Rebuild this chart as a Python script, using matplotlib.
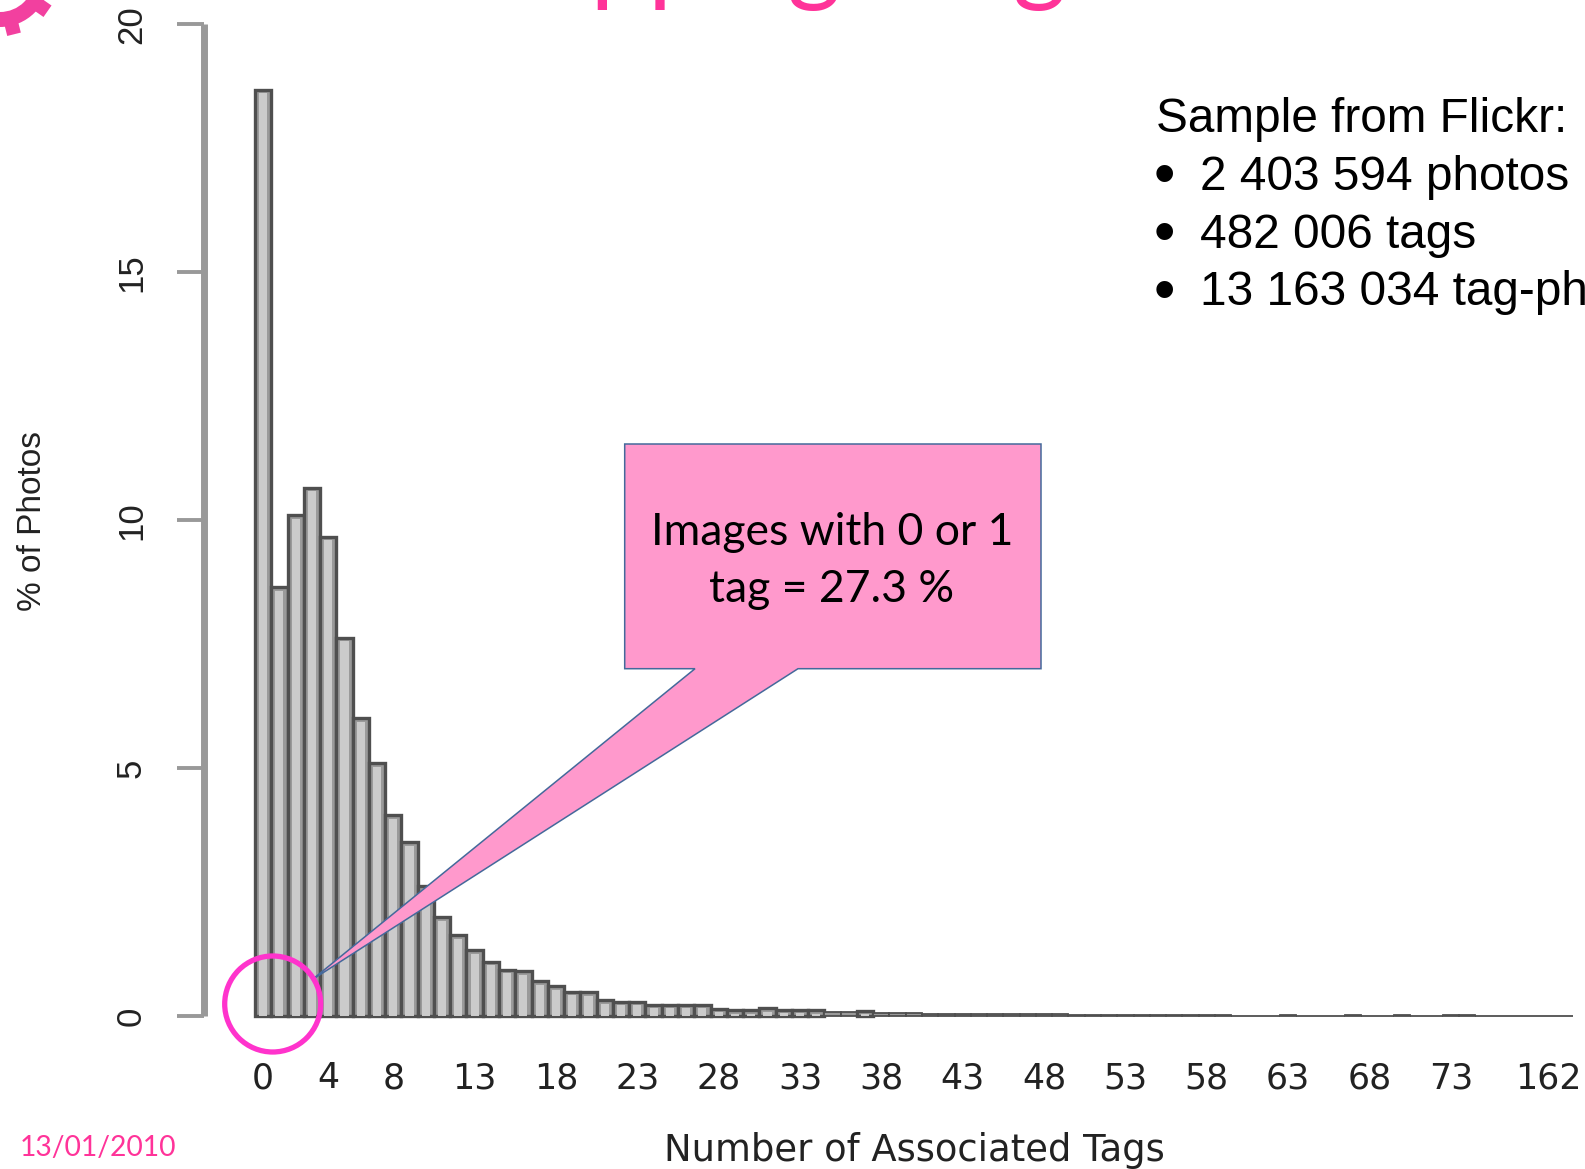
import math
import matplotlib
matplotlib.use("Agg")
import matplotlib.pyplot as plt
from matplotlib.patches import Polygon, Circle, Wedge

W, H = 1585, 1169

# ---- data (percent of photos per number of associated tags) ----
percent_photos = [
    18.68, 8.65, 10.10, 10.65, 9.67, 7.63, 6.00, 5.10, 4.05, 3.50,
    2.63, 1.99, 1.63, 1.33, 1.09, 0.93, 0.90, 0.70, 0.60, 0.49,
    0.48, 0.32, 0.29, 0.29, 0.23, 0.23, 0.23, 0.23, 0.15, 0.12,
    0.12, 0.16, 0.13, 0.13, 0.12, 0.08, 0.08, 0.11, 0.07, 0.06,
    0.06, 0.05, 0.05, 0.05, 0.05, 0.04, 0.04, 0.04, 0.04, 0.04,
    0.03, 0.03, 0.03, 0.02, 0.03, 0.02, 0.03, 0.02, 0.02, 0.02,
    0.01, 0.01, 0.01, 0.03, 0.01, 0.01, 0.01, 0.03, 0.01, 0.01,
    0.03, 0.01, 0.01, 0.03, 0.03, 0.01, 0.01, 0.01, 0.01, 0.01,
    0.01,
]
x_tick_positions = [0, 4, 8, 13, 18, 23, 28, 33, 38, 43, 48, 53, 58, 63, 68, 73, 79]
x_tick_labels = ["0", "4", "8", "13", "18", "23", "28", "33", "38", "43",
                 "48", "53", "58", "63", "68", "73", "162"]
y_ticks = [0, 5, 10, 15, 20]
x_label = "Number of Associated Tags"
y_label = "% of Photos"
title_words = ["Mapping", "tags"]
date_text = "13/01/2010"
callout_lines = "Images with 0 or 1\ntag = 27.3 %"
sample_header = "Sample from Flickr:"
sample_items = ["2 403 594 photos", "482 006 tags", "13 163 034 tag-ph"]

SANS = ["Liberation Sans", "DejaVu Sans"]
WIDE = ["DejaVu Sans"]
CAL = ["Lato", "DejaVu Sans"]
PINK = "#FF3399"

fig = plt.figure(figsize=(W / 100, H / 100), dpi=100, facecolor="white")

# main chart axes, positioned in pixels
left, right, top, bottom = 203.5, 1585.0, 24.3, 1016.0
ax = fig.add_axes([left / W, 1 - bottom / H, (right - left) / W, (bottom - top) / H])
ax.patch.set_alpha(0)
PERIOD, X0 = 16.27, 263.1
ax.set_xlim((left - X0) / PERIOD, (right - X0) / PERIOD)
ax.set_ylim(0, 20)

xs = list(range(len(percent_photos)))
lws = [2.4 if v >= 0.1 else 1.3 for v in percent_photos]
ax.bar(xs, percent_photos, width=1.0, color="#9a9a9a", edgecolor="#4f4f4f",
       linewidth=lws, clip_on=False, zorder=2)
# lighter core of each bar, as in the blurred source image
core = [max(v - 0.07, 0) if v >= 0.1 else 0 for v in percent_photos]
ax.bar(xs, core, width=0.5, color="#cbcbcb", edgecolor="none", zorder=3)

for s in ("top", "right", "bottom"):
    ax.spines[s].set_visible(False)
ax.spines["left"].set_bounds(0, 20)
ax.spines["left"].set_color("#999999")
ax.spines["left"].set_linewidth(5)
ax.spines["left"].set_capstyle("butt")
ax.set_yticks(y_ticks)
ax.set_yticklabels([str(v) for v in y_ticks], rotation=90, va="center",
                   family=SANS, fontsize=25, color="#222222")
ax.tick_params(axis="y", length=19.5, width=2.8, color="#999999", pad=20.5)
ax.set_xticks(x_tick_positions)
ax.set_xticklabels(x_tick_labels, family=WIDE, fontsize=25, color="#222222")
ax.tick_params(axis="x", length=0, pad=32.5)

# overlay in pixel coordinates
ov = fig.add_axes([0, 0, 1, 1])
ov.set_xlim(0, W)
ov.set_ylim(H, 0)
ov.axis("off")
ov.patch.set_alpha(0)

ov.text(33, 521, y_label, rotation=90, ha="center", va="center",
        family=SANS, fontsize=24, color="#222222")
ov.text(914, 1161, x_label, ha="center", va="baseline",
        family=WIDE, fontsize=26.6, color="#222222")

# callout
ov.add_patch(Polygon(
    [(624.7, 444), (1041, 444), (1041, 668.7), (798, 668.7), (311.7, 980),
     (695, 668.7), (624.7, 668.7)],
    closed=True, facecolor="#FF99CC", edgecolor="#44699B", linewidth=1.1, zorder=5))
ov.text(832, 561, callout_lines, ha="center", va="center", family=CAL, fontsize=32,
        color="black", linespacing=1.48, zorder=6)

# circle
ov.add_patch(Circle((272.7, 1004), 48, fill=False, edgecolor="#FF33CC", linewidth=3.8, zorder=6))

# date
ov.text(20, 1156, date_text, ha="left", va="baseline", family=CAL, fontsize=20.3, color=PINK)

# sample text block
ov.text(1156, 131.7, sample_header, ha="left", va="baseline", family=SANS, fontsize=34.4, color="black")
for base, item in zip((190, 248, 305), sample_items):
    ov.text(1154, base + 4.5, "\u2022", ha="left", va="baseline", family=SANS, fontsize=44, color="black")
    ov.text(1200, base, item, ha="left", va="baseline", family=SANS, fontsize=34.4, color="black")

# title, almost wholly above the top edge
ov.text(445, -8, title_words[0], ha="left", va="baseline", family=CAL, fontsize=74, color=PINK, clip_on=True)
ov.text(926, -8, title_words[1], ha="left", va="baseline", family=CAL, fontsize=74, color=PINK, clip_on=True)

# gear icon cut by the corner
gc = (0, -22)
ov.add_patch(Wedge(gc, 49, 0, 180, width=15, facecolor="#F2409F", edgecolor="none"))
for ang_deg in (14, 55):
    a = math.radians(ang_deg)
    d = (math.sin(a), math.cos(a))
    n = (math.cos(a), -math.sin(a))
    r0, r1, hw = 44, 58, 7
    ov.add_patch(Polygon([(gc[0] + d[0] * r + n[0] * s, gc[1] + d[1] * r + n[1] * s)
                          for r, s in ((r0, -hw), (r1, -hw), (r1, hw), (r0, hw))],
                         facecolor="#F2409F", edgecolor="none"))

fig.savefig("out.png", dpi=100)
